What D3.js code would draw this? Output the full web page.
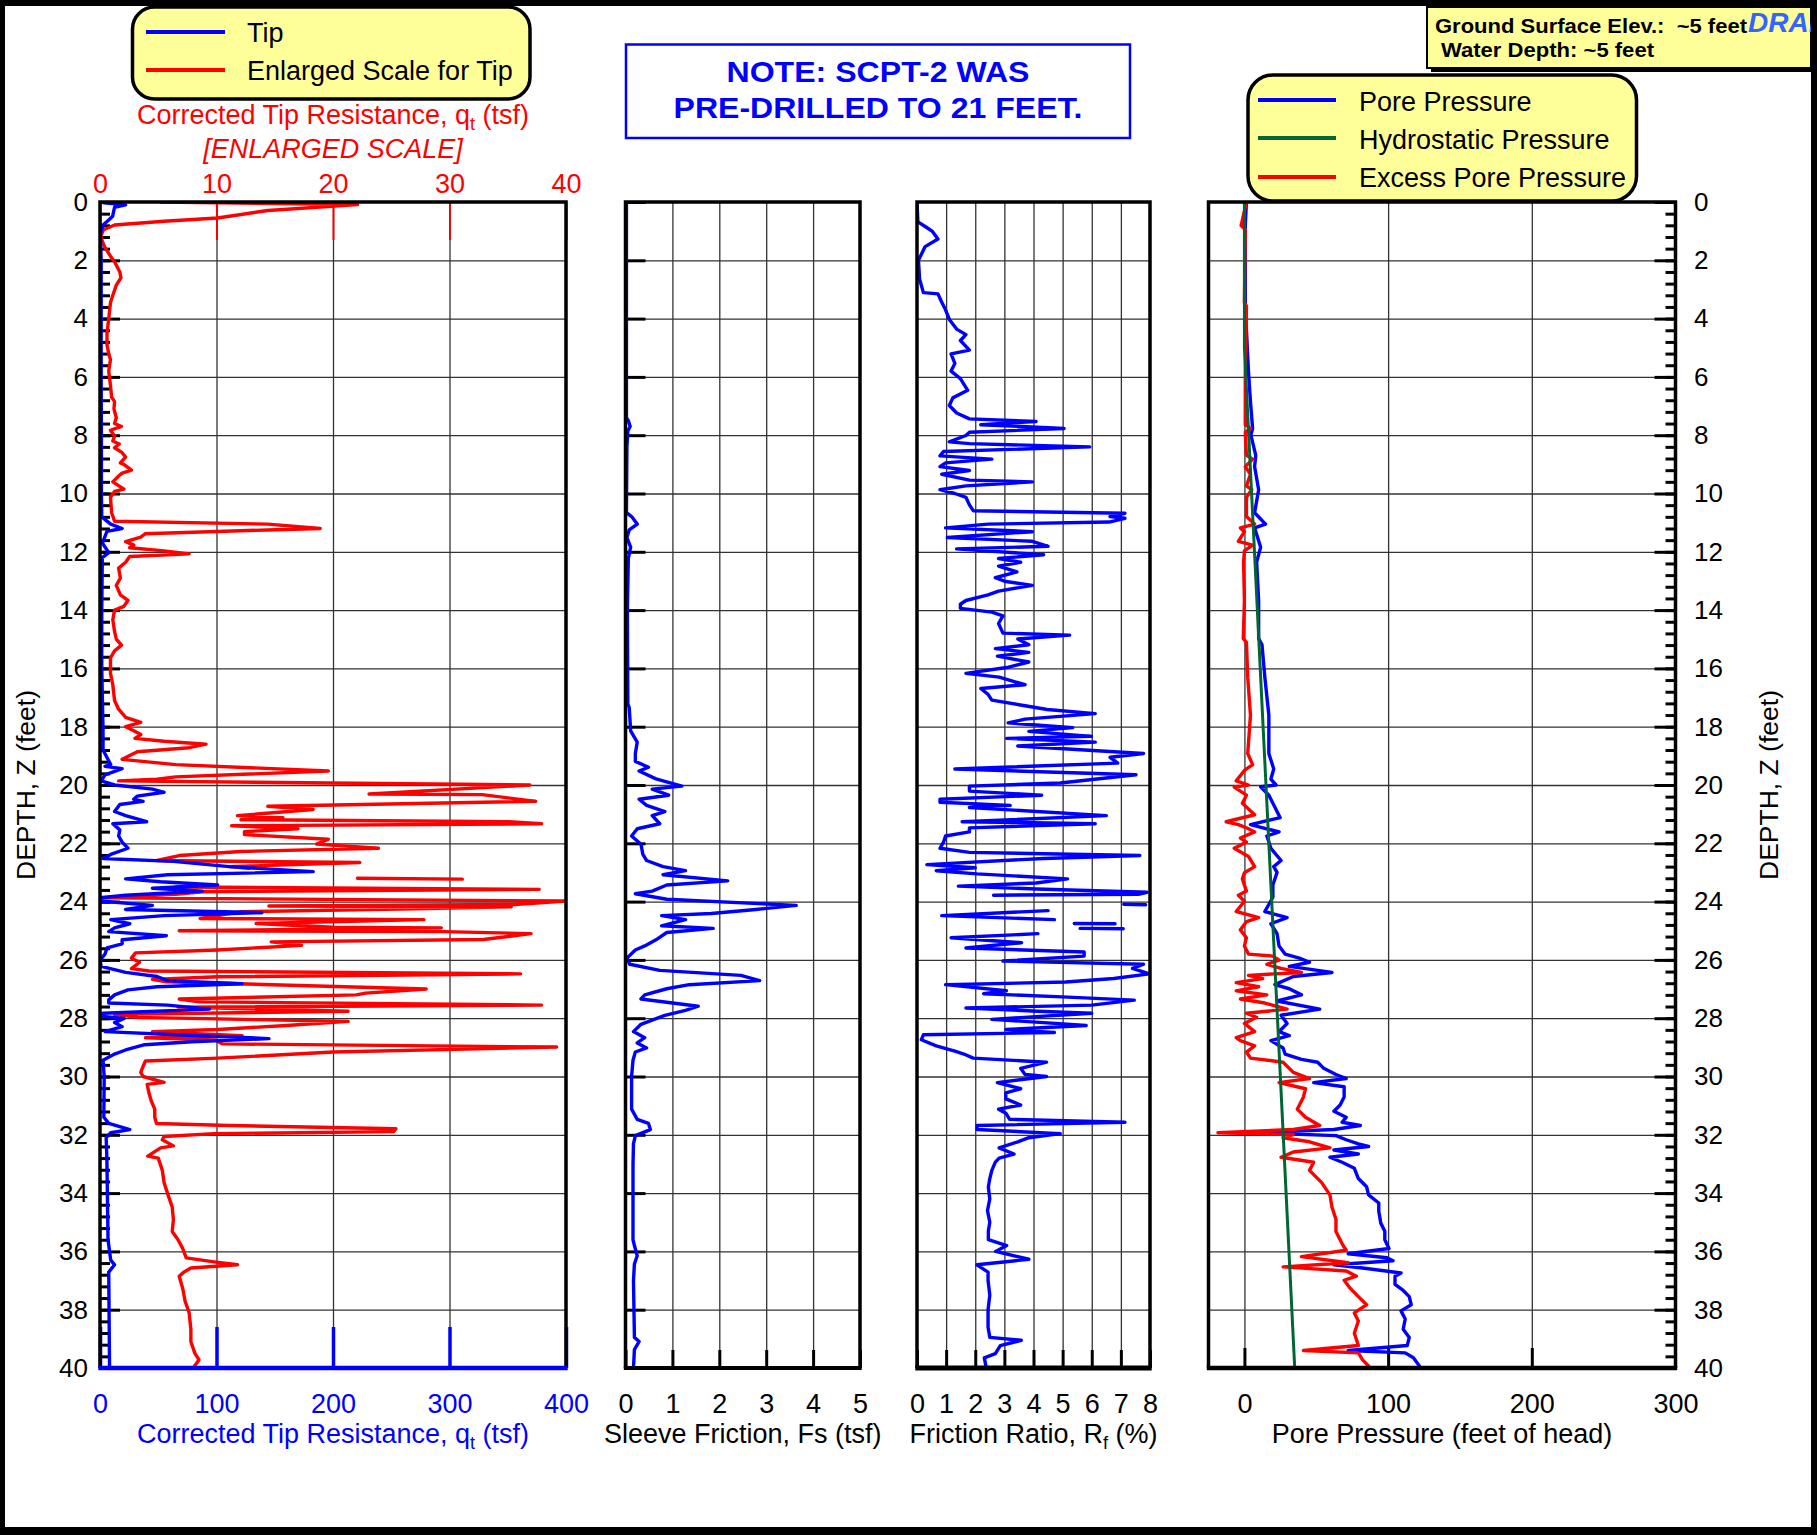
<!DOCTYPE html>
<html><head><meta charset="utf-8">
<script src="https://cdn.jsdelivr.net/npm/d3@7"></script>
<style>
body{margin:0;background:#fff}
svg{display:block}
text{font-family:"Liberation Sans",Arial,Helvetica,sans-serif}
</style>
</head><body>
<svg id="c" width="1817" height="1535"></svg>
<script>
// ---------------- DATA ----------------
const depthMajor = d3.range(0, 41, 2);
const depthMinor = d3.range(0, 40.01, 0.4);
const tipTicks = [0, 100, 200, 300, 400];
const tipEnlargedTicks = [0, 10, 20, 30, 40];
const sleeveTicks = [0, 1, 2, 3, 4, 5];
const ratioTicks = [0, 1, 2, 3, 4, 5, 6, 7, 8];
const poreTicks = [0, 100, 200, 300];

// [depth ft, corrected tip resistance tsf] - Tip (0-400 scale)
const tipBlue = [[0.03,3.3],[0.1,22],[0.18,12.5],[0.49,10.8],[0.62,7.5],[0.79,2.6],[1.08,0.3],[2,1],[4,1],[6,1],[8,1.2],[10,1.2],[10.8,1.5],[11.05,9.2],[11.2,19],[11.3,6],[11.7,2],[12.03,7.5],[12.2,2],[14,1.5],[16,1.5],[18.1,2.6],[18.8,2.6],[19.3,9.2],[19.36,4.3],[19.44,19],[19.65,4.3],[19.86,1],[20.0,12.5],[20.14,45],[20.25,55],[20.38,32],[20.49,29],[20.56,37],[20.67,17],[20.91,12.5],[21.05,22],[21.26,40],[21.33,11],[21.54,17],[21.75,16],[21.96,19],[22.17,24],[22.38,9.2],[22.52,2.6],[22.62,63],[22.8,111],[22.97,183],[23.08,58],[23.22,22],[23.32,52],[23.43,101],[23.54,45],[23.64,88],[23.78,22],[23.87,0.3],[23.99,2.6],[24.13,45],[24.27,22],[24.38,139],[24.48,55],[24.62,9.2],[24.76,25.6],[24.9,12.5],[25.03,7.5],[25.17,57],[25.31,19],[25.45,19],[25.59,6],[25.8,4.3],[26.01,0],[26.22,1],[26.43,22],[26.57,49],[26.71,58],[26.82,122],[26.92,49],[27.03,24],[27.2,12.5],[27.37,7.5],[27.48,7.5],[27.55,58],[27.69,94],[27.83,2.6],[27.93,0],[28.01,20.7],[28.15,12.5],[28.29,19],[28.46,4.3],[28.6,85],[28.7,145],[28.81,78.8],[28.91,38.4],[29.09,22],[29.23,12.5],[29.44,2.6],[30,3.6],[31.4,3.3],[31.61,7.5],[31.82,25.6],[31.93,9.2],[32.1,5.3],[32.8,5.9],[35.6,6.9],[36.3,9.2],[36.46,12.5],[36.71,7.5],[40,8.2]];

// [depth ft, tip tsf] - Enlarged scale (0-40)
const tipRed = [[0,5.2],[0.09,22.1],[0.29,14.4],[0.55,10.1],[0.66,5.5],[0.79,1.25],[0.95,0.3],[1.2,0.05],[1.54,0.4],[1.86,0.9],[2.05,1.25],[2.4,1.7],[2.6,1.8],[2.85,1.4],[3.2,1.1],[3.45,0.9],[4.0,0.75],[4.5,0.6],[4.9,0.6],[5.2,0.75],[5.4,0.9],[5.8,0.75],[6.3,0.9],[6.7,1.0],[6.85,1.25],[7.1,1.2],[7.4,1.4],[7.6,1.25],[7.7,1.85],[7.83,0.9],[8.03,1.25],[8.2,1.1],[8.3,1.65],[8.43,1.25],[8.6,1.9],[8.75,2.2],[8.95,1.75],[9.0,2.05],[9.2,2.7],[9.3,1.9],[9.4,1.6],[9.6,1.1],[9.85,2.05],[9.93,1.25],[10.13,0.9],[10.66,1.0],[10.95,1.25],[11.05,14.4],[11.2,18.9],[11.25,14.4],[11.38,3.9],[11.5,3.5],[11.65,2.2],[11.77,2.9],[11.86,2.55],[11.97,5.5],[12.07,7.65],[12.16,2.55],[12.36,2.2],[12.56,1.6],[12.9,1.75],[13.15,1.4],[13.48,1.75],[13.67,2.4],[13.87,2.05],[14.0,1.25],[14.33,1.1],[14.73,1.25],[15.0,1.4],[15.2,1.85],[15.4,1.25],[15.64,0.9],[16.17,0.9],[16.56,1.1],[17.1,1.25],[17.4,1.6],[17.68,2.2],[17.85,3.5],[18.0,2.2],[18.14,2.9],[18.27,3.5],[18.4,3.0],[18.5,5.5],[18.6,9.1],[18.72,7.65],[18.86,3.2],[18.99,2.55],[19.12,1.9],[19.3,6.5],[19.52,19.6],[19.72,6.5],[19.8,4.9],[19.86,1.6],[20.0,36.9],[20.31,23.1],[20.33,32.8],[20.56,37.4],[20.73,14.4],[20.84,18.3],[21.05,11.8],[21.12,15.7],[21.19,12.1],[21.26,35.1],[21.33,37.9],[21.4,11.3],[21.5,17.0],[21.6,12.4],[21.7,12.4],[21.86,19.6],[22.03,18.6],[22.17,23.9],[22.28,12.1],[22.42,6.8],[22.59,4.9],[22.66,22.3],[22.8,11.1],[22.86,12.8],[22.9,null],[23.2,22.1],[23.23,31.1],[23.3,null],[23.5,6.5],[23.58,37.7],[23.66,8.8],[23.75,6.5],[23.87,0.2],[23.98,40],[24.1,35.6],[24.15,14.5],[24.18,35.3],[24.25,27.0],[24.35,12.0],[24.58,8.6],[24.62,27.8],[24.75,13.4],[24.88,20.0],[24.9,29.3],[25.0,6.8],[25.03,29.5],[25.1,37.0],[25.3,32.9],[25.38,14.7],[25.5,17.3],[25.66,10.1],[25.76,3.05],[25.94,2.7],[26.08,3.4],[26.3,2.7],[26.38,4.2],[26.48,36.1],[26.58,10.1],[26.67,4.5],[26.75,5.7],[27.0,28.0],[27.14,22.8],[27.2,22.0],[27.34,6.8],[27.44,8.5],[27.55,37.9],[27.62,6.7],[27.76,21.3],[27.87,1.25],[27.97,3.2],[28.11,21.3],[28.25,16.0],[28.39,10.1],[28.46,4.5],[28.6,12.2],[28.67,3.9],[28.74,9.8],[28.88,10.5],[28.99,39.2],[29.16,20.0],[29.37,10.1],[29.47,3.9],[29.65,3.7],[29.86,3.5],[30.0,3.7],[30.2,5.5],[30.27,4.05],[30.56,4.2],[30.84,4.4],[31.12,4.7],[31.4,4.7],[31.61,4.85],[31.68,11.1],[31.79,25.4],[31.89,25.2],[31.96,9.8],[32.06,5.5],[32.17,5.35],[32.38,6.3],[32.45,5.2],[32.73,4.1],[32.8,5.0],[33.22,5.35],[33.64,5.5],[34.07,5.85],[34.48,6.2],[34.9,6.3],[35.32,6.2],[35.6,6.7],[35.9,7.1],[36.22,7.4],[36.36,9.8],[36.46,11.8],[36.57,7.8],[36.71,7.2],[36.85,6.8],[37.27,7.1],[37.7,7.3],[38.1,7.65],[38.67,7.8],[39.1,7.8],[39.5,8.15],[39.72,8.5],[40.0,8.0]];

// [depth ft, sleeve friction tsf]
const sleeve = [[0,0.02],[7.4,0.02],[7.5,0.06],[7.7,0.1],[7.85,0.05],[8.4,0.03],[10.66,0.02],[10.79,0.13],[11.05,0.25],[11.25,0.08],[11.51,0.03],[11.84,0.11],[12.23,0.06],[14,0.04],[17.22,0.05],[17.35,0.08],[18.14,0.11],[18.53,0.25],[18.92,0.21],[19.19,0.21],[19.39,0.49],[19.52,0.29],[19.79,0.65],[20.04,1.2],[20.14,0.57],[20.35,0.92],[20.49,0.29],[20.7,0.45],[20.91,0.84],[21.05,0.57],[21.33,0.73],[21.5,0.25],[21.75,0.13],[22.03,0.33],[22.38,0.37],[22.59,0.45],[22.8,0.8],[22.94,1.28],[23.08,0.8],[23.29,2.18],[23.43,0.88],[23.64,0.57],[23.73,0.21],[23.92,0.88],[24.13,3.64],[24.27,2.78],[24.41,1.83],[24.48,0.77],[24.62,1.28],[24.83,0.77],[24.92,1.87],[25.06,0.88],[25.31,0.65],[25.52,0.41],[25.66,0.21],[25.94,0.03],[26.15,0.09],[26.36,0.73],[26.53,2.46],[26.71,2.86],[26.85,1.36],[26.99,0.88],[27.2,0.41],[27.34,0.33],[27.59,1.55],[27.73,1.28],[27.9,0.84],[28.04,0.61],[28.21,0.33],[28.46,0.17],[28.67,0.41],[28.85,0.25],[29.02,0.45],[29.16,0.21],[29.44,0.16],[30.0,0.13],[31.12,0.13],[31.47,0.25],[31.61,0.49],[31.82,0.53],[32.03,0.21],[32.31,0.17],[33,0.16],[35.6,0.16],[35.8,0.19],[36.15,0.25],[36.43,0.19],[37,0.17],[38.95,0.19],[39.09,0.29],[39.37,0.19],[40,0.17]];

// [depth ft, friction ratio %]
const frictionRatio = [[0,0],[0.68,0.03],[0.84,0.28],[1.01,0.53],[1.27,0.72],[1.53,0.28],[2.0,0.05],[2.65,0.09],[3.11,0.22],[3.15,0.72],[3.44,0.85],[3.7,0.98],[4.03,1.11],[4.36,1.36],[4.55,1.68],[4.75,1.49],[5.08,1.8],[5.21,1.17],[5.54,1.3],[5.8,1.17],[6.06,1.49],[6.46,1.74],[6.72,1.23],[6.98,1.11],[7.24,1.36],[7.44,1.8],[7.53,4.09],[7.64,2.19],[7.77,5.05],[7.9,1.8],[8.01,1.68],[8.23,1.11],[8.29,1.8],[8.4,5.93],[8.56,0.91],[8.71,0.79],[8.82,2.57],[8.95,0.98],[9.08,0.79],[9.21,1.8],[9.34,0.85],[9.54,1.8],[9.6,3.96],[9.74,1.68],[9.87,0.79],[10.0,1.3],[10.13,1.68],[10.39,1.8],[10.59,1.93],[10.68,7.14],[10.79,6.63],[10.85,7.14],[10.98,6.6],[11.05,2.44],[11.18,0.98],[11.31,3.96],[11.51,1.04],[11.64,3.96],[11.81,4.5],[11.9,1.36],[12.1,4.35],[12.23,2.8],[12.36,3.56],[12.49,2.8],[12.69,3.43],[12.89,2.69],[13.02,3.05],[13.15,3.96],[13.35,2.8],[13.48,2.44],[13.67,1.68],[13.8,1.49],[13.94,1.49],[14.07,2.57],[14.2,2.95],[14.46,2.8],[14.79,2.95],[14.86,5.24],[14.99,3.46],[15.19,3.84],[15.32,2.69],[15.45,3.84],[15.58,2.76],[15.78,3.84],[15.97,3.08],[16.17,1.68],[16.3,2.82],[16.56,3.71],[16.69,2.19],[16.89,2.44],[17.09,2.57],[17.28,3.71],[17.41,4.47],[17.55,6.12],[17.74,3.71],[17.87,3.13],[18.03,5.35],[18.16,3.84],[18.33,5.99],[18.4,3.08],[18.53,6.12],[18.66,3.46],[18.79,5.61],[18.92,7.78],[19.05,6.63],[19.25,6.89],[19.45,1.3],[19.65,7.52],[19.93,4.92],[20.04,1.8],[20.21,1.8],[20.35,4.28],[20.49,0.79],[20.59,0.79],[20.7,3.2],[20.77,1.8],[21.05,6.5],[21.26,1.55],[21.33,6.12],[21.47,1.8],[21.61,1.8],[21.75,0.98],[21.96,0.91],[22.17,0.79],[22.31,1.8],[22.42,7.65],[22.52,4.35],[22.73,0.34],[22.84,2.0],[22.94,0.66],[23.05,2.06],[23.22,5.17],[23.36,4.09],[23.47,1.42],[23.57,4.09],[23.68,7.9],[23.75,7.6],[23.78,2.63],[23.95,null],[24.09,7.1],[24.11,7.85],[24.15,null],[24.31,4.5],[24.48,0.85],[24.62,4.72],[24.68,null],[24.75,5.4],[24.76,6.8],[24.8,null],[24.92,5.6],[24.93,7.08],[25.0,null],[25.1,4.15],[25.24,1.17],[25.41,3.59],[25.59,1.68],[25.73,5.74],[25.87,5.74],[26.04,2.95],[26.15,7.78],[26.29,7.4],[26.48,7.97],[26.64,6.76],[26.76,5.11],[26.85,0.98],[27.06,3.07],[27.16,2.29],[27.27,4.98],[27.38,7.46],[27.55,6.0],[27.65,1.68],[27.76,4.15],[27.83,6.0],[28.04,2.57],[28.15,4.35],[28.25,5.81],[28.39,3.05],[28.49,4.72],[28.57,0.22],[28.74,0.15],[28.95,0.66],[29.13,1.3],[29.23,1.61],[29.37,1.93],[29.51,4.45],[29.72,3.56],[29.93,3.71],[30.0,4.45],[30.21,2.76],[30.42,3.56],[30.56,3.05],[30.77,3.05],[30.98,3.56],[31.12,2.8],[31.26,3.05],[31.47,3.18],[31.57,7.14],[31.68,2.06],[31.82,2.06],[31.96,4.92],[32.1,3.84],[32.24,3.46],[32.45,2.82],[32.66,3.33],[32.8,2.82],[32.94,2.69],[33.22,2.57],[33.5,2.5],[33.8,2.45],[34.2,2.5],[34.6,2.42],[35.0,2.5],[35.3,2.45],[35.6,2.45],[35.8,3.08],[36.0,2.7],[36.27,3.84],[36.46,2.06],[36.71,2.44],[37.0,2.44],[37.5,2.5],[38.0,2.44],[38.6,2.44],[38.95,2.5],[39.05,3.58],[39.23,2.86],[39.51,2.69],[39.65,2.31],[40.0,2.38]];

// [depth ft, pore pressure ft of head]
const porePressure = [[0,1.4],[0.8,0.6],[3.57,0.6],[5.8,2.8],[6.85,4.2],[7.77,5.7],[8.0,4.5],[8.69,7.9],[9.08,7.1],[9.87,9.9],[10.66,7.1],[11.05,14.7],[11.18,7.1],[11.84,11.3],[12.36,8.5],[13.67,9.9],[14.98,9.9],[15.18,12.2],[16.3,14.2],[17.6,17.0],[18.92,17.0],[19.45,20.4],[19.8,18.4],[20.0,22],[20.06,11.3],[20.35,17],[21.12,24.9],[21.36,4.2],[21.61,24.1],[21.75,15.6],[22.17,18.4],[22.59,25.5],[22.8,20.4],[23.0,22.7],[23.43,19.8],[23.85,19.8],[24.34,14.2],[24.55,29.7],[24.76,18.4],[25.1,22.7],[25.52,24.1],[25.8,28.3],[25.94,38.2],[26.08,45.3],[26.22,31.2],[26.43,60.9],[26.57,34.0],[26.85,21.2],[26.99,31.2],[27.2,39.7],[27.41,22.7],[27.69,52.4],[27.9,25.5],[28.18,29.7],[28.46,24.1],[28.6,31.2],[28.77,18.4],[29.02,26.9],[29.23,28.3],[29.41,39.7],[29.51,51.0],[29.72,55.2],[29.93,63.7],[30.07,70.8],[30.21,48.2],[30.35,69.4],[30.7,69.4],[30.98,66.6],[31.19,62.3],[31.4,70.8],[31.57,68.0],[31.68,80.7],[31.82,62.3],[31.93,8.5],[32.03,63.7],[32.17,70.8],[32.31,79.3],[32.4,86.4],[32.52,62.3],[32.66,79.3],[32.77,59.5],[32.94,68.0],[33.15,76.5],[33.5,79.3],[33.78,85.0],[34.06,86.4],[34.34,93.5],[34.62,93.5],[35.03,94.9],[35.31,97.7],[35.6,97.7],[35.9,100.6],[36.08,72.2],[36.22,99.2],[36.32,103.4],[36.46,62.3],[36.57,82.2],[36.74,109],[36.85,104.8],[37.13,104.8],[37.34,110.5],[37.55,114.7],[37.83,116.1],[38.04,109],[38.32,111.9],[38.67,110.5],[38.95,114.7],[39.23,113.3],[39.4,72.2],[39.48,111.9],[39.65,117.6],[39.93,121.8]];

// [depth ft, excess pore pressure ft of head]
const excessPore = [[0,1.4],[0.81,-2.3],[0.94,0.6],[3.44,0],[3.57,1.4],[5.8,0.6],[7.64,0.6],[7.77,4.2],[7.9,0.6],[8.69,1.4],[8.82,5.7],[9.08,0.6],[9.34,4.2],[9.74,1.4],[9.87,5.1],[10.13,1.4],[10.79,1.4],[11.05,7.1],[11.18,-2.8],[11.31,0],[11.64,-4.2],[11.77,5.7],[11.97,0],[12.36,-0.6],[13.67,0],[14.98,-0.8],[15.11,1.4],[16.3,2.3],[17.6,4.2],[18.92,2.3],[19.3,5.7],[19.5,0],[19.86,-5.7],[20.0,2.8],[20.07,-7.1],[20.35,1.4],[20.63,-1.4],[21.02,7.1],[21.26,-12.7],[21.36,-4.2],[21.47,1.4],[21.61,7.1],[21.82,-2.8],[21.96,1.4],[22.17,-7.1],[22.45,2.8],[22.8,7.1],[23.01,0],[23.22,-1.4],[23.64,1.4],[23.78,-4.2],[23.99,0],[24.34,-5.7],[24.55,9.9],[24.69,1.4],[24.97,-2.8],[25.24,1.4],[25.52,0],[25.8,2.8],[25.87,19.8],[26.01,24.1],[26.15,15.6],[26.29,25.5],[26.43,39.7],[26.53,2.8],[26.64,12.7],[26.78,-5.7],[26.92,9.9],[27.06,-5.7],[27.2,15.6],[27.34,-2.8],[27.48,14.2],[27.69,29.7],[27.83,1.4],[27.97,8.5],[28.18,0],[28.46,7.1],[28.67,-5.7],[28.77,-2.8],[28.95,7.1],[29.16,1.4],[29.37,4.2],[29.51,26.9],[29.86,34.0],[30.07,45.3],[30.21,24.1],[30.42,42.5],[30.7,41.1],[31.12,36.8],[31.4,42.5],[31.68,52.4],[31.82,34.0],[31.93,-18.4],[31.99,34.0],[32.1,26.9],[32.24,45.3],[32.45,59.5],[32.59,34.0],[32.77,25.5],[32.94,48.2],[33.22,45.3],[33.64,53.8],[34.06,59.5],[34.48,60.9],[34.9,63.7],[35.32,63.7],[35.74,68.0],[35.96,70.8],[36.18,39.7],[36.39,72.2],[36.53,27.0],[36.67,70.8],[36.85,77.9],[36.99,69.4],[37.27,73.7],[37.55,79.3],[37.83,85.0],[38.11,76.5],[38.39,79.3],[38.81,76.5],[39.23,79.3],[39.4,41.1],[39.48,79.3],[39.72,82.2],[39.93,86.4]];

// [depth ft, hydrostatic pressure ft of head]
const hydrostatic = [[0,0],[5,0],[40,35]];

// ---------------- LAYOUT ----------------
const svg = d3.select("#c");
const TOP = 202, BOT = 1368;
const P1 = {x0:100, x1:566}, P2 = {x0:625.5, x1:860}, P3 = {x0:917, x1:1150}, P4 = {x0:1208.5, x1:1675.5};
const y = d3.scaleLinear().domain([0,40]).range([TOP,BOT]);
const xTip = d3.scaleLinear().domain([0,400]).range([P1.x0,P1.x1]);
const xTipE = d3.scaleLinear().domain([0,40]).range([P1.x0,P1.x1]);
const xFs = d3.scaleLinear().domain([0,5]).range([P2.x0,P2.x1]);
const xRf = d3.scaleLinear().domain([0,8]).range([P3.x0,P3.x1]);
const xU = d3.scaleLinear().domain([-25,300]).range([P4.x0,P4.x1]);
const intFmt = d3.format("d");

svg.append("rect").attr("width",1817).attr("height",1535).attr("fill","#fff");

const defs = svg.append("defs");
[["c1",P1],["c2",P2],["c3",P3],["c4",P4]].forEach(([id,p])=>{
  defs.append("clipPath").attr("id",id).append("rect")
    .attr("x",p.x0).attr("y",TOP).attr("width",p.x1-p.x0).attr("height",BOT-TOP);
});

function clean(s){ s.select(".domain").remove(); }

// gridlines
function grid(p, xs, xv){
  const g = svg.append("g");
  g.append("g").attr("transform",`translate(${p.x0},0)`)
    .call(d3.axisLeft(y).tickValues(depthMajor.slice(1,-1)).tickSize(-(p.x1-p.x0)).tickFormat(""))
    .call(clean).selectAll("line").attr("stroke","#333").attr("stroke-width",1.3);
  g.append("g").attr("transform",`translate(0,${BOT})`)
    .call(d3.axisBottom(xs).tickValues(xv).tickSize(-(BOT-TOP)).tickFormat(""))
    .call(clean).selectAll("line").attr("stroke","#333").attr("stroke-width",1.3);
}
grid(P1, xTip, [100,200,300]);
grid(P2, xFs, [1,2,3,4]);
grid(P3, xRf, [1,2,3,4,5,6,7]);
grid(P4, xU, [0,100,200]);

// tick marks
function ticks(gen, tx, ty, col, w){
  svg.append("g").attr("transform",`translate(${tx},${ty})`).call(gen).call(clean)
    .selectAll("line").attr("stroke",col).attr("stroke-width",w);
}
ticks(d3.axisRight(y).tickValues(depthMinor).tickSize(10).tickFormat(""), P1.x0, 0, "#000", 3);
ticks(d3.axisRight(y).tickValues(depthMajor).tickSize(20).tickFormat(""), P1.x0, 0, "#000", 3);
ticks(d3.axisRight(y).tickValues(depthMajor).tickSize(20).tickFormat(""), P2.x0, 0, "#000", 3);
ticks(d3.axisLeft(y).tickValues(depthMinor).tickSize(10).tickFormat(""), P4.x1, 0, "#000", 3);
ticks(d3.axisLeft(y).tickValues(depthMajor).tickSize(21).tickFormat(""), P4.x1, 0, "#000", 3);
ticks(d3.axisBottom(xTipE).tickValues(tipEnlargedTicks).tickSize(38).tickFormat(""), 0, TOP, "#f00", 2);
ticks(d3.axisTop(xTip).tickValues(tipTicks).tickSize(41).tickFormat(""), 0, BOT, "#00f", 3.5);
ticks(d3.axisTop(xFs).tickValues(sleeveTicks).tickSize(18).tickFormat(""), 0, BOT, "#000", 3);
ticks(d3.axisTop(xRf).tickValues(ratioTicks).tickSize(18).tickFormat(""), 0, BOT, "#000", 3);
ticks(d3.axisTop(xU).tickValues([0,100,200]).tickSize(20).tickFormat(""), 0, BOT, "#000", 3);

// data lines
function line(xs){ return d3.line().defined(d=>d[1]!=null).x(d=>xs(d[1])).y(d=>y(d[0])); }
function draw(data, xs, clip, col, w){
  svg.append("path").datum(data).attr("clip-path",`url(#${clip})`)
    .attr("d",line(xs)).attr("fill","none").attr("stroke",col).attr("stroke-width",w)
    .attr("stroke-linejoin","round").attr("stroke-linecap","round");
}
draw(tipRed, xTipE, "c1", "#ff0000", 3.4);
draw(tipBlue, xTip, "c1", "#0000ff", 3.4);
draw(sleeve, xFs, "c2", "#0000ff", 3.4);
draw(frictionRatio, xRf, "c3", "#0000ff", 3.4);
draw(porePressure, xU, "c4", "#0000ff", 3.4);
draw(excessPore, xU, "c4", "#ff0000", 3.4);
draw(hydrostatic, xU, "c4", "#006633", 3);

// borders
function border(p, bottomCol, bw){
  const g = svg.append("g").attr("fill","none");
  g.append("path").attr("d",`M${p.x0},${BOT}V${TOP}H${p.x1}V${BOT}`).attr("stroke","#000").attr("stroke-width",3.5);
  g.append("line").attr("x1",p.x0-1.7).attr("x2",p.x1+1.7).attr("y1",BOT).attr("y2",BOT).attr("stroke",bottomCol).attr("stroke-width",bw);
}
border(P1, "#0000ff", 4.5);
border(P2, "#000", 4);
border(P3, "#000", 5);
border(P4, "#000", 4.5);

// tick labels
function labels(gen, tx, ty, col, size){
  const g = svg.append("g").attr("transform",`translate(${tx},${ty})`).call(gen).call(clean);
  g.selectAll("text").attr("fill",col).attr("font-size",size)
    .attr("font-family",'"Liberation Sans",Arial,sans-serif');
  g.selectAll("line").remove();
}
labels(d3.axisLeft(y).tickValues(depthMajor).tickFormat(intFmt).tickSize(0).tickPadding(12), P1.x0, 0, "#000", 26);
labels(d3.axisRight(y).tickValues(depthMajor).tickFormat(intFmt).tickSize(0).tickPadding(18.5), P4.x1, 0, "#000", 26);
labels(d3.axisBottom(xTip).tickValues(tipTicks).tickFormat(intFmt).tickSize(0).tickPadding(26), 0, BOT, "#0000ff", 27);
labels(d3.axisBottom(xFs).tickValues(sleeveTicks).tickFormat(intFmt).tickSize(0).tickPadding(26), 0, BOT, "#000", 27);
labels(d3.axisBottom(xRf).tickValues(ratioTicks).tickFormat(intFmt).tickSize(0).tickPadding(26), 0, BOT, "#000", 27);
labels(d3.axisBottom(xU).tickValues(poreTicks).tickFormat(intFmt).tickSize(0).tickPadding(26), 0, BOT, "#000", 27);
labels(d3.axisTop(xTipE).tickValues(tipEnlargedTicks).tickFormat(intFmt).tickSize(0).tickPadding(9), 0, TOP, "#ff0000", 27);

// axis titles (with subscripts)
function title(x, yb, parts, col, opts={}){
  const t = svg.append("text").attr("x",x).attr("y",yb).attr("text-anchor","middle")
    .attr("font-size",opts.size||27).attr("fill",col);
  if (opts.italic) t.attr("font-style","italic");
  let afterSub = false;
  parts.forEach(p=>{
    if (typeof p === "string") {
      const s = t.append("tspan").text(p);
      if (afterSub) s.attr("dy",-6);
      afterSub = false;
    } else {
      t.append("tspan").attr("font-size",18).attr("dy",6).text(p.sub);
      afterSub = true;
    }
  });
  return t;
}
title((P1.x0+P1.x1)/2, 1443, ["Corrected Tip Resistance, q",{sub:"t"}," (tsf)"], "#0000ff");
title((P2.x0+P2.x1)/2, 1443, ["Sleeve Friction, Fs (tsf)"], "#000");
title((P3.x0+P3.x1)/2, 1443, ["Friction Ratio, R",{sub:"f"}," (%)"], "#000");
title((P4.x0+P4.x1)/2, 1443, ["Pore Pressure (feet of head)"], "#000");
title((P1.x0+P1.x1)/2, 124, ["Corrected Tip Resistance, q",{sub:"t"}," (tsf)"], "#ff0000");
title((P1.x0+P1.x1)/2, 158, ["[ENLARGED SCALE]"], "#ff0000", {italic:true});

[25.7, 1769].forEach(cx=>{
  svg.append("text").attr("transform",`translate(${cx},${(TOP+BOT)/2}) rotate(-90)`)
    .attr("text-anchor","middle").attr("dominant-baseline","central")
    .attr("font-size",26.5).attr("fill","#000").text("DEPTH, Z (feet)");
});

// legend 1
const lg1 = svg.append("g");
lg1.append("rect").attr("x",132.5).attr("y",7).attr("width",397.5).attr("height",92).attr("rx",22)
  .attr("fill","#ffff99").attr("stroke","#000").attr("stroke-width",3.5);
[["Tip","#0000ff",32,42],["Enlarged Scale for Tip","#ff0000",70,80]].forEach(([t,c,ly,ty])=>{
  lg1.append("line").attr("x1",146).attr("x2",225).attr("y1",ly).attr("y2",ly).attr("stroke",c).attr("stroke-width",4);
  lg1.append("text").attr("x",247).attr("y",ty).attr("font-size",27).attr("fill","#000").text(t);
});

// legend 2
const lg2 = svg.append("g");
lg2.append("rect").attr("x",1248).attr("y",75).attr("width",388.5).attr("height",126).attr("rx",25)
  .attr("fill","#ffff99").attr("stroke","#000").attr("stroke-width",3.5);
[["Pore Pressure","#0000ff",100,111],["Hydrostatic Pressure","#006633",138,149],["Excess Pore Pressure","#ff0000",177,187]].forEach(([t,c,ly,ty])=>{
  lg2.append("line").attr("x1",1258).attr("x2",1336).attr("y1",ly).attr("y2",ly).attr("stroke",c).attr("stroke-width",4);
  lg2.append("text").attr("x",1359).attr("y",ty).attr("font-size",27).attr("fill","#000").text(t);
});

// note box
svg.append("rect").attr("x",626).attr("y",44.5).attr("width",504).attr("height",93.5)
  .attr("fill","#fff").attr("stroke","#0000ff").attr("stroke-width",2.5);
[["NOTE: SCPT-2 WAS",82,303],["PRE-DRILLED TO 21 FEET.",118,409]].forEach(([t,by,len])=>{
  svg.append("text").attr("x",878).attr("y",by).attr("text-anchor","middle")
    .attr("font-size",30).attr("font-weight","bold").attr("fill","#0000ff")
    .attr("textLength",len).attr("lengthAdjust","spacingAndGlyphs").text(t);
});

// top-right info box
svg.append("rect").attr("x",1431).attr("y",11).attr("width",384).attr("height",61).attr("fill","#000");
svg.append("rect").attr("x",1427).attr("y",7).attr("width",384).attr("height",61)
  .attr("fill","#ffff99").attr("stroke","#000").attr("stroke-width",2);
svg.append("text").attr("x",1435).attr("y",33).attr("font-size",20).attr("font-weight","bold")
  .attr("style","white-space:pre").attr("textLength",312).attr("lengthAdjust","spacingAndGlyphs")
  .text("Ground Surface Elev.:  ~5 feet");
svg.append("text").attr("x",1441).attr("y",57).attr("font-size",20).attr("font-weight","bold")
  .attr("textLength",213).attr("lengthAdjust","spacingAndGlyphs").text("Water Depth: ~5 feet");
svg.append("text").attr("x",1748).attr("y",32).attr("font-size",28).attr("font-weight","bold")
  .attr("font-style","italic").attr("fill","#3366ff").text("DRAFT");

// outer frame
const fr = svg.append("g").attr("fill","#000");
fr.append("rect").attr("x",0).attr("y",0).attr("width",1817).attr("height",6);
fr.append("rect").attr("x",0).attr("y",0).attr("width",5).attr("height",1535);
fr.append("rect").attr("x",1811).attr("y",0).attr("width",6).attr("height",1535);
fr.append("rect").attr("x",0).attr("y",1527).attr("width",1817).attr("height",8);
</script>
</body></html>
